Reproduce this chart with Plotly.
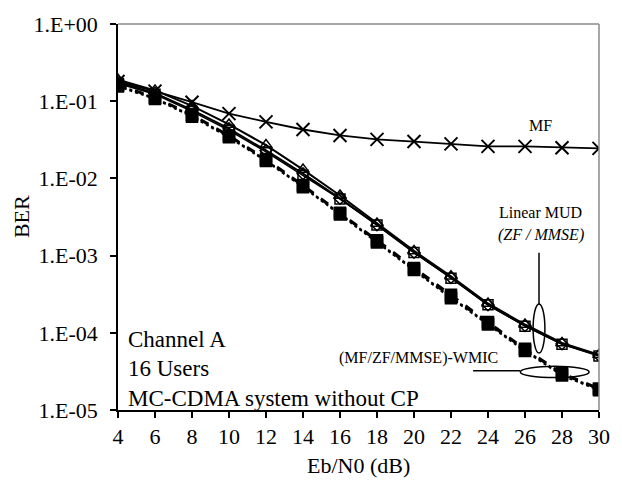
import plotly.graph_objects as go

ebn0 = [4, 6, 8, 10, 12, 14, 16, 18, 20, 22, 24, 26, 28, 30]

ber_mf = [0.18, 0.135, 0.097, 0.069, 0.054, 0.043, 0.036, 0.032, 0.030, 0.028, 0.026, 0.026, 0.025, 0.0245]
ber_zf = [0.19, 0.138, 0.087, 0.050, 0.027, 0.013, 0.0060, 0.0026, 0.00115, 0.00054, 0.00024, 0.000128, 7.4e-5, 5.2e-5]
ber_mmse = [0.175, 0.127, 0.077, 0.044, 0.023, 0.0115, 0.0055, 0.0025, 0.0011, 0.00052, 0.00023, 0.000124, 7.2e-5, 5.1e-5]
ber_mmse_b = [0.17, 0.123, 0.074, 0.042, 0.022, 0.011, 0.0054, 0.0025, 0.0011, 0.00051, 0.00023, 0.000122, 7.1e-5, 5.0e-5]
ber_mf_wmic = [0.165, 0.112, 0.067, 0.036, 0.0178, 0.0082, 0.0036, 0.00158, 0.00069, 0.00031, 0.000138, 6.2e-5, 3.0e-5, 1.9e-5]
ber_zf_wmic = [0.16, 0.11, 0.065, 0.035, 0.0172, 0.0079, 0.0035, 0.00152, 0.00066, 0.00029, 0.000132, 6.0e-5, 2.9e-5, 1.85e-5]
ber_mmse_wmic = [0.155, 0.107, 0.063, 0.034, 0.0168, 0.0077, 0.0034, 0.00148, 0.00065, 0.00028, 0.000128, 5.8e-5, 2.8e-5, 1.8e-5]

x_ticks = [4, 6, 8, 10, 12, 14, 16, 18, 20, 22, 24, 26, 28, 30]
y_ticks = [1, 1e-1, 1e-2, 1e-3, 1e-4, 1e-5]
y_ticktext = ["1.E+00", "1.E-01", "1.E-02", "1.E-03", "1.E-04", "1.E-05"]

FONT = "Liberation Serif"

fig = go.Figure()

def add(y, name, symbol, dash, width, size, mline=1.5):
    fig.add_trace(go.Scatter(
        x=ebn0, y=y, name=name, mode="lines+markers",
        line=dict(color="black", width=width, dash=dash),
        marker=dict(symbol=symbol, size=size, color="black",
                    line=dict(color="black", width=mline)),
    ))

add(ber_mf, "MF", "x-thin-open", "solid", 1.8, 13, 2)
add(ber_zf, "ZF", "triangle-up-open", "solid", 2, 11, 1.5)
add(ber_mmse_b, "MMSE (b)", "square-open", "solid", 1.5, 10, 1.5)
add(ber_mmse, "MMSE", "diamond-open", "solid", 2, 9, 1.5)
add(ber_mf_wmic, "MF-WMIC", "square", "dash", 2.5, 11)
add(ber_zf_wmic, "ZF-WMIC", "square", "dashdot", 2, 11)
add(ber_mmse_wmic, "MMSE-WMIC", "square", "dot", 2, 11)

L, R, T, B = 118, 15, 17, 80
W, H = 622, 490
pw, ph = W - L - R, H - T - B

def px(x):
    return (x - L) / pw

def py(y):
    return (H - B - y) / ph

ann = []
def text(t, x, y, size, xanchor="center", textangle=0):
    ann.append(dict(text=t, x=px(x), y=py(y), xref="paper", yref="paper",
                    showarrow=False, xanchor=xanchor, yanchor="middle",
                    textangle=textangle,
                    font=dict(family=FONT, size=size, color="black")))

text("MF", 548, 120, 16)
text("Linear MUD", 548, 209, 16)
text("<i>(ZF / MMSE)</i>", 548, 232, 16)
text("(MF/ZF/MMSE)-WMIC", 423, 357, 16)
text("Channel A", 126, 338, 23, xanchor="left")
text("16 Users", 126, 368, 23, xanchor="left")
text("MC-CDMA system without CP", 126, 398, 23, xanchor="left")
text("BER", 20, 213, 22, textangle=-90)
text("Eb/N0 (dB)", 362, 466, 22)

shapes = [
    dict(type="line", xref="paper", yref="paper", x0=0, x1=1, y0=1, y1=1,
         line=dict(color="#8a8a8a", width=1.5)),
    dict(type="line", xref="paper", yref="paper", x0=1, x1=1, y0=0, y1=1,
         line=dict(color="#8a8a8a", width=1.5)),
    dict(type="line", xref="paper", yref="paper", x0=px(546), x1=px(546), y0=py(250), y1=py(302),
         line=dict(color="black", width=1.5)),
    dict(type="circle", xref="paper", yref="paper", x0=px(540), x1=px(552), y0=py(302), y1=py(352),
         line=dict(color="black", width=1.5)),
    dict(type="line", xref="paper", yref="paper", x0=px(479), x1=px(527), y0=py(370), y1=py(370),
         line=dict(color="black", width=1.5)),
    dict(type="circle", xref="paper", yref="paper", x0=px(527), x1=px(597), y0=py(365.5), y1=py(377),
         line=dict(color="black", width=1.5)),
]

fig.update_layout(
    width=W, height=H,
    margin=dict(l=L, r=R, t=T, b=B),
    paper_bgcolor="white", plot_bgcolor="white",
    showlegend=False,
    font=dict(family=FONT, size=22, color="black"),
    annotations=ann, shapes=shapes,
    xaxis=dict(range=[4, 30], tickvals=x_ticks, ticks="outside", ticklen=6,
               tickwidth=1.5, tickcolor="black", showline=True, linecolor="black",
               linewidth=1.5, showgrid=False, zeroline=False,
               tickfont=dict(family=FONT, size=22, color="black")),
    yaxis=dict(type="log", range=[-5, 0], tickvals=y_ticks, ticktext=y_ticktext,
               ticks="outside", ticklen=6, tickwidth=1.5, tickcolor="black",
               showline=True, linecolor="black", linewidth=1.5, showgrid=False,
               zeroline=False, ticklabelstandoff=8,
               tickfont=dict(family=FONT, size=22, color="black")),
)

fig.write_html("out.html")
